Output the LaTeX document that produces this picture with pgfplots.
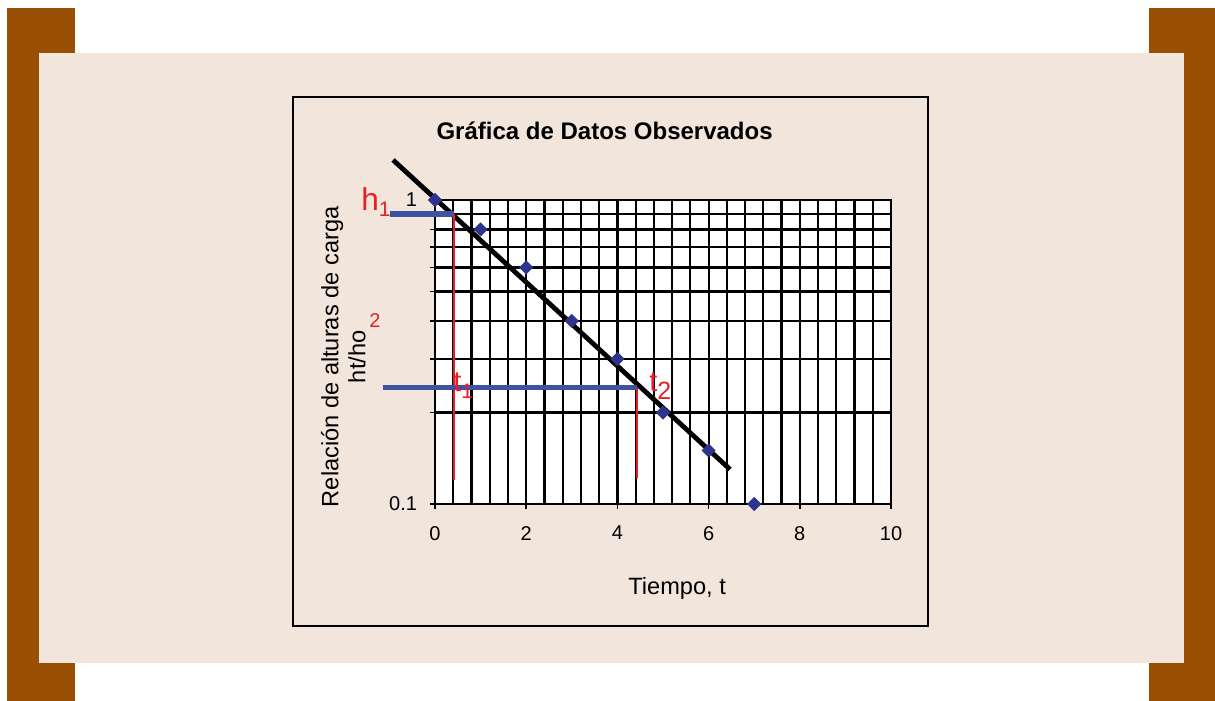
\documentclass[border=0pt]{standalone}
\usepackage{pgfplots}
\pgfplotsset{compat=1.18}
\usepackage{fontspec}
\setmainfont{Liberation Sans}
\definecolor{brownbar}{RGB}{153,79,4}
\definecolor{beige}{RGB}{242,230,220}
\definecolor{navy}{RGB}{46,52,140}
\definecolor{lineblue}{RGB}{62,82,162}
\definecolor{annred}{RGB}{237,28,36}

\begin{document}
\begin{tikzpicture}[x=1pt,y=1pt]
% page frame: 1 px of the reference = 0.5pt
\useasboundingbox (0,0) rectangle (607.5,350.5);
\fill[white] (0,0) rectangle (607.5,350.5);
\fill[brownbar] (3.5,0) rectangle (37.5,346.5);
\fill[brownbar] (574.5,0) rectangle (607.5,346.5);
\fill[beige] (19.5,19) rectangle (592,324);
\draw[line width=1pt, fill=beige] (146.5,37.5) rectangle (464,302);

\begin{axis}[
  at={(217.5pt,98.5pt)}, anchor=south west,
  scale only axis, width=228pt, height=152pt,
  ymode=log,
  xmin=0, xmax=10, ymin=0.1, ymax=1,
  xtick={0,2,...,10},
  minor xtick={0,0.4,...,10},
  ytick={0.1,0.2,0.3,0.4,0.5,0.6,0.7,0.8,0.9,1},
  yticklabels={0.1,{},{},{},{},{},{},{},{},1},
  grid=both,
  major grid style={black, line width=1.1pt},
  minor grid style={black, line width=1.1pt},
  axis line style={black, line width=1.1pt},
  tick pos=left, tick align=outside,
  major tick length=2.5pt, minor tick length=0pt,
  tick style={black, line width=0.8pt},
  axis background/.style={fill=white},
  clip=false,
  /pgf/number format/assume math mode=true,
  ticklabel style={font=\fontsize{10}{12}\selectfont},
  xticklabel style={yshift=-5pt},
  yticklabel style={xshift=-3pt},
  title={Gráfica de Datos Observados},
  title style={at={(axis description cs:0.372,1.188)}, anchor=center,
    font=\fontsize{12}{14}\selectfont\bfseries},
  every axis x label/.style={at={(axis description cs:0.531,-0.276)}, anchor=center,
    font=\fontsize{11.8}{14}\selectfont},
  every axis y label/.style={at={(axis description cs:-0.201,0.484)}, anchor=center,
    rotate=90, align=center, font=\fontsize{11.8}{13.5}\selectfont},
  xlabel={Tiempo, t},
  ylabel={Relación de alturas de carga\\ht/ho},
]
\addplot[only marks, mark=square*, mark size=2.3pt, color=navy,
  mark options={rotate=45}] coordinates {
  (0,1.0) (1,0.8) (2,0.6) (3,0.4) (4,0.3) (5,0.2) (6,0.15) (7,0.1)
};
\addplot[black, line width=2.4pt] coordinates {(-0.92,1.354) (6.47,0.130)};
\addplot[lineblue, line width=2.6pt] coordinates {(-0.99,0.9) (0.417,0.9)};
\addplot[annred, line width=1pt] coordinates {(0.417,0.9) (0.417,0.12)};
\addplot[lineblue, line width=2.6pt] coordinates {(-1.14,0.241) (4.43,0.241)};
\addplot[annred, line width=1pt] coordinates {(4.43,0.241) (4.43,0.122)};
\end{axis}

% red annotations
\node[annred, anchor=base west, inner sep=0pt] at (180.5,245)
  {\fontsize{15.8}{18}\selectfont h\raisebox{-3pt}{\fontsize{10.5}{12}\selectfont 1}};
\node[annred, anchor=base west, inner sep=0pt] at (226.5,154.5)
  {\fontsize{14.5}{17}\selectfont t\raisebox{-3.5pt}{\fontsize{10.5}{12}\selectfont 1}};
\node[annred, anchor=base west, inner sep=0pt] at (324.5,154.5)
  {\fontsize{14.5}{17}\selectfont t\raisebox{-4pt}{\fontsize{12.5}{14}\selectfont 2}};
\node[annred, anchor=base west, inner sep=0pt] at (184.5,186.5)
  {\fontsize{10}{12}\selectfont 2};
\end{tikzpicture}
\end{document}
